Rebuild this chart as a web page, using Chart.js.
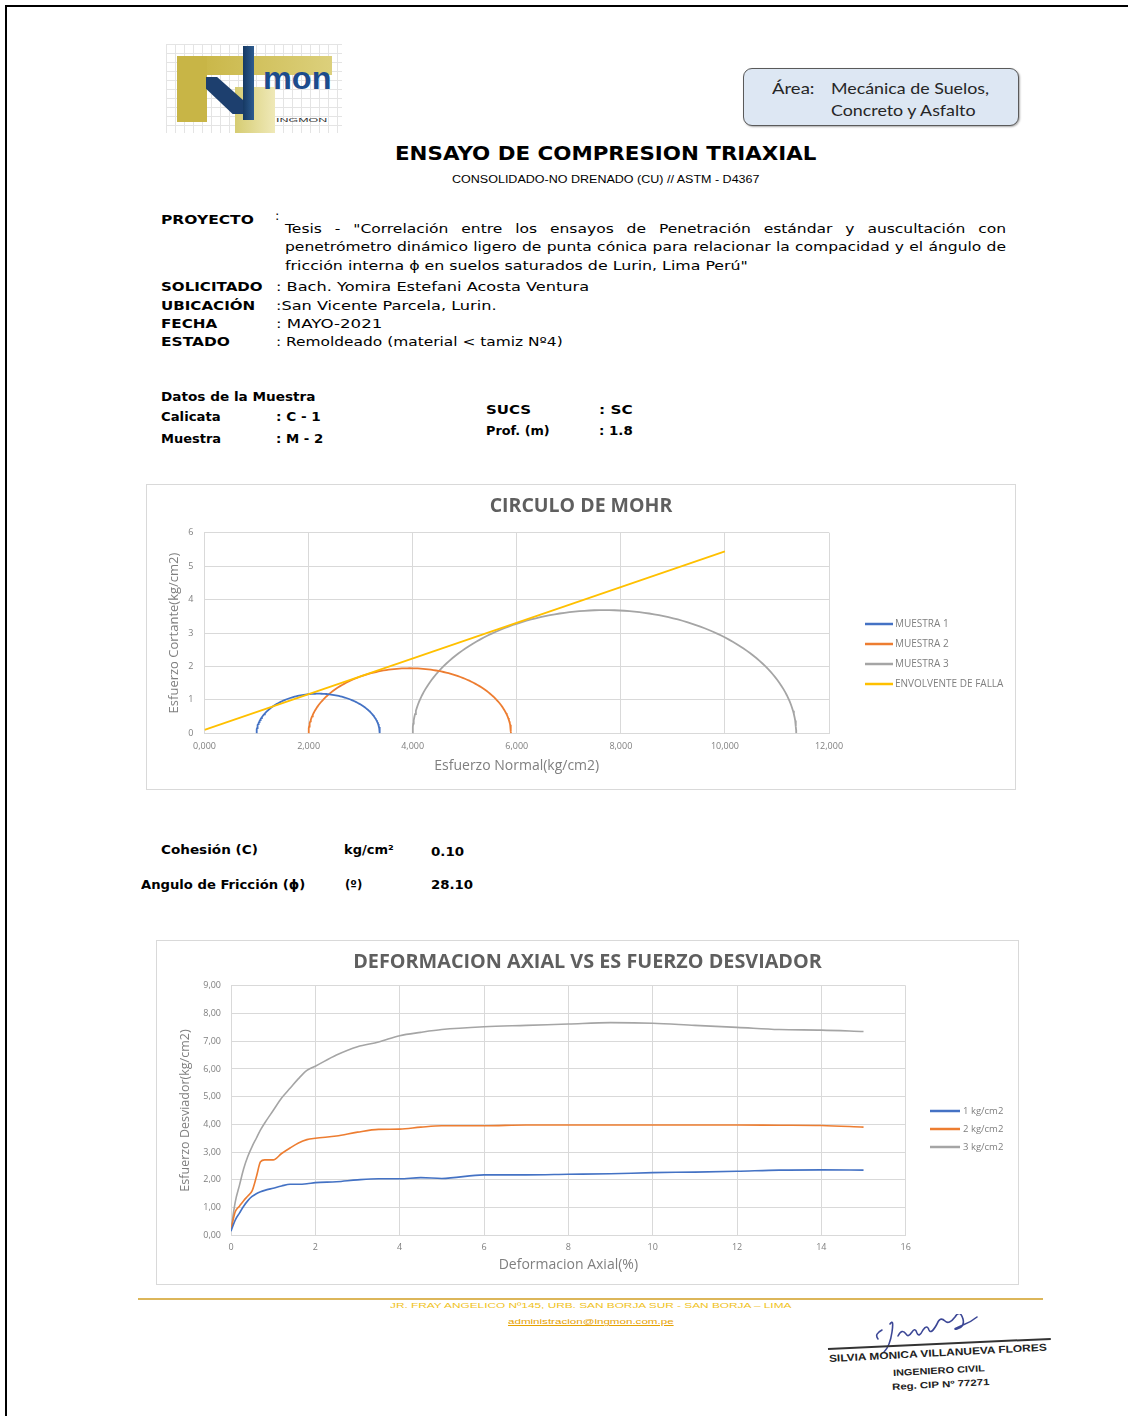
<!DOCTYPE html>
<html lang="es">
<head>
<meta charset="utf-8">
<title>Ensayo de compresión triaxial</title>
<script src="https://cdn.jsdelivr.net/npm/chart.js@4.4.1/dist/chart.umd.min.js"></script>
<style>
html, body { margin: 0; padding: 0; background: #fff; }
body { width: 1128px; height: 1416px; position: relative; overflow: hidden; font-family: "DejaVu Sans", sans-serif; color: #000; }
.t { position: absolute; white-space: nowrap; line-height: 1; transform-origin: 0 50%; }
.b { font-weight: bold; }
.j { position: absolute; width: 721px; left: 285px; font-size: 13px; line-height: 1; text-align: justify; text-align-last: justify; transform-origin: 0 50%; }
.p { position: absolute; }
.caja { position: absolute; background: #fff; border: 1px solid #d9d9d9; }
.caja canvas { display: block; }
</style>
</head>
<body>

<!-- marco de la hoja -->
<div class="p" style="left:5px;top:5px;width:1123px;height:2px;background:#000"></div>
<div class="p" style="left:5px;top:5px;width:2px;height:1411px;background:#000"></div>

<!-- logo -->
<div class="p" style="left:166px;top:44px;width:176px;height:89px;background-color:#fff;background-image:linear-gradient(#e4e4e4 1px, transparent 1px),linear-gradient(90deg,#e4e4e4 1px, transparent 1px);background-size:9px 9px"></div>
<div class="p" style="left:177px;top:56px;width:155px;height:19px;background:linear-gradient(90deg,#c6b23e,#dcd07c)"></div>
<div class="p" style="left:177px;top:56px;width:30px;height:66px;background:#c8b546"></div>
<div class="p" style="left:235px;top:87px;width:40px;height:46px;background:linear-gradient(90deg,#d6cc72,#efe9b8)"></div>
<div class="p" style="left:206px;top:77px;width:37px;height:37px;background:#1d3f6e;clip-path:polygon(0 0,30% 0,100% 62%,100% 100%,72% 100%,0 32%)"></div>
<div class="p" style="left:243px;top:46px;width:11px;height:74px;background:linear-gradient(90deg,#163963,#2d5c90)"></div>
<span class="t b" style="left:263px;top:63px;font-family:'Liberation Sans';font-size:31px;color:#1c4b8c" data-w="68">mon</span>
<span class="t" style="left:276px;top:117px;font-family:'Liberation Sans';font-size:6px;color:#333" data-w="52">INGMON</span>

<!-- recuadro de área -->
<div class="p" style="left:743px;top:68px;width:274px;height:56px;border:1.5px solid #5a5a5a;border-radius:9px;background:#dde7f3;box-shadow:1px 1px 2px #aaa"></div>
<span class="t" style="left:772px;top:80.5px;font-family:Lato;font-size:15px;color:#262626" data-w="42">Área:</span>
<span class="t" style="left:831px;top:80.5px;font-family:Lato;font-size:15px;color:#262626" data-w="158">Mecánica de Suelos,</span>
<span class="t" style="left:831px;top:102.5px;font-family:Lato;font-size:15px;color:#262626" data-w="145">Concreto y Asfalto</span>

<!-- encabezado -->
<span class="t b" style="left:395px;top:143.5px;font-size:19px" data-w="422">ENSAYO DE COMPRESION TRIAXIAL</span>
<span class="t" style="left:452px;top:175px;font-family:'Liberation Sans';font-size:10px" data-w="308">CONSOLIDADO-NO DRENADO (CU) // ASTM - D4367</span>

<!-- datos del proyecto -->
<span class="t b" style="left:161px;top:212.5px;font-size:13px" data-w="93">PROYECTO</span>
<span class="t" style="left:275px;top:208.5px;font-size:13px">:</span>
<div class="j" style="top:221.5px">Tesis - "Correlación entre los ensayos de Penetración estándar y auscultación con</div>
<div class="j" style="top:239.5px">penetrómetro dinámico ligero de punta cónica para relacionar la compacidad y el ángulo de</div>
<span class="t" style="left:285px;top:258.5px;font-size:13px" data-w="463">fricción interna ϕ en suelos saturados de Lurin, Lima Perú"</span>

<span class="t b" style="left:161px;top:279.5px;font-size:13px" data-w="102">SOLICITADO</span>
<span class="t" style="left:276px;top:279.5px;font-size:13px" data-w="313">: Bach. Yomira Estefani Acosta Ventura</span>
<span class="t b" style="left:161px;top:298.5px;font-size:13px" data-w="94">UBICACIÓN</span>
<span class="t" style="left:276px;top:298.5px;font-size:13px" data-w="221">:San Vicente Parcela, Lurin.</span>
<span class="t b" style="left:161px;top:316.5px;font-size:13px" data-w="56">FECHA</span>
<span class="t" style="left:276px;top:316.5px;font-size:13px" data-w="106">: MAYO-2021</span>
<span class="t b" style="left:161px;top:334.5px;font-size:13px" data-w="69">ESTADO</span>
<span class="t" style="left:276px;top:334.5px;font-size:13px" data-w="287">: Remoldeado (material &lt; tamiz Nº4)</span>

<!-- datos de la muestra -->
<span class="t b" style="left:161px;top:389.5px;font-size:13px" data-w="155">Datos de la Muestra</span>
<span class="t b" style="left:161px;top:409.5px;font-size:13px" data-w="60">Calicata</span>
<span class="t b" style="left:276px;top:409.5px;font-size:13px" data-w="45">: C - 1</span>
<span class="t b" style="left:161px;top:431.5px;font-size:13px" data-w="60">Muestra</span>
<span class="t b" style="left:276px;top:431.5px;font-size:13px" data-w="47">: M - 2</span>
<span class="t b" style="left:486px;top:402.5px;font-size:13px" data-w="45">SUCS</span>
<span class="t b" style="left:599px;top:402.5px;font-size:13px" data-w="34">: SC</span>
<span class="t b" style="left:486px;top:423.5px;font-size:13px" data-w="64">Prof. (m)</span>
<span class="t b" style="left:599px;top:423.5px;font-size:13px" data-w="34">: 1.8</span>

<!-- gráfico 1 -->
<div class="caja" style="left:146px;top:484px;width:868px;height:304px"><canvas id="mohr" width="868" height="304"></canvas></div>

<!-- parámetros -->
<span class="t b" style="left:161px;top:842.5px;font-size:13px" data-w="97">Cohesión (C)</span>
<span class="t b" style="left:344px;top:842.5px;font-size:13px" data-w="50">kg/cm²</span>
<span class="t b" style="left:431px;top:844.5px;font-size:13px" data-w="33">0.10</span>
<span class="t b" style="left:141px;top:877.5px;font-size:13px" data-w="164">Angulo de Fricción (ϕ)</span>
<span class="t b" style="left:345px;top:877.5px;font-size:13px" data-w="17">(º)</span>
<span class="t b" style="left:431px;top:877.5px;font-size:13px" data-w="42">28.10</span>

<!-- gráfico 2 -->
<div class="caja" style="left:156px;top:940px;width:861px;height:343px"><canvas id="desviador" width="861" height="343"></canvas></div>

<!-- pie de página -->
<div class="p" style="left:138px;top:1298px;width:905px;height:2px;background:#dcb65a"></div>
<span class="t" style="left:390px;top:1302px;font-family:'Liberation Sans';font-size:8px;color:#f0c21a" data-w="402">JR. FRAY ANGELICO Nº145, URB. SAN BORJA SUR - SAN BORJA – LIMA</span>
<span class="t" style="left:508px;top:1318px;font-family:'Liberation Sans';font-size:8px;color:#e6a100;text-decoration:underline" data-w="165">administracion@ingmon.com.pe</span>

<!-- firma -->
<svg class="p" style="left:868px;top:1314px" width="140" height="42" viewBox="0 0 140 42">
  <path d="M14 16 q-8 4 -4 9 M22 10 q4 -6 2 8 q-2 14 -8 20 M30 22 q4 -8 8 -2 q2 4 6 -2 q3 -5 5 1 q2 5 6 -3 q4 -6 6 0 q2 5 8 -6 q3 -8 8 -3 q4 4 10 -4 q5 -8 8 2 q2 8 -6 10 q-6 1 6 -4 q8 -3 14 -8"
        fill="none" stroke="#3c4796" stroke-width="1.6" stroke-linecap="round"/>
</svg>
<div class="p" style="left:828px;top:1348px;width:223px;height:2px;background:#333;transform:rotate(-2.6deg);transform-origin:0 50%"></div>
<span class="t b" style="left:829px;top:1354px;font-family:'Liberation Sans';font-size:10px;color:#222" data-w="218" data-r="-3">SILVIA MONICA VILLANUEVA FLORES</span>
<span class="t b" style="left:893px;top:1369px;font-family:'Liberation Sans';font-size:9px;color:#222" data-w="92" data-r="-3">INGENIERO CIVIL</span>
<span class="t b" style="left:892px;top:1383px;font-family:'Liberation Sans';font-size:9px;color:#222" data-w="98" data-r="-3">Reg. CIP Nº 77271</span>

<script>
// ----- Círculo de Mohr (kg/cm2) -----
const muestras = ['MUESTRA 1', 'MUESTRA 2', 'MUESTRA 3'];
const sigma3 = [1.00, 2.00, 4.00];     // esfuerzo principal menor
const sigma1 = [3.37, 5.89, 11.37];    // esfuerzo principal mayor
const coloresMuestra = ['#4472C4', '#ED7D31', '#A5A5A5'];
const envolventeX = [0, 10];
const envolventeY = [0.10, 5.44];
const ticksNormal = [0, 2, 4, 6, 8, 10, 12];
const ticksCortante = [0, 1, 2, 3, 4, 5, 6];

// ----- Deformación axial vs esfuerzo desviador -----
const deformacion = [0, 0.1, 0.2, 0.3, 0.4, 0.5, 0.6, 0.7, 0.8, 1.0, 1.2, 1.4, 1.6, 1.8, 2.0, 2.5, 3.0, 3.5, 4.0, 4.5, 5.0, 6.0, 7.0, 8.0, 9.0, 10.0, 11.0, 12.0, 13.0, 14.0, 15.0];
const desviador1 = [0.15, 0.55, 0.80, 1.05, 1.25, 1.40, 1.50, 1.57, 1.62, 1.70, 1.78, 1.84, 1.84, 1.86, 1.90, 1.93, 2.00, 2.04, 2.04, 2.08, 2.05, 2.18, 2.18, 2.20, 2.22, 2.26, 2.28, 2.31, 2.35, 2.36, 2.35];
const desviador2 = [0.20, 0.85, 1.05, 1.25, 1.42, 1.60, 2.10, 2.65, 2.72, 2.72, 2.95, 3.15, 3.33, 3.45, 3.50, 3.58, 3.72, 3.82, 3.83, 3.90, 3.95, 3.95, 3.98, 3.98, 3.98, 3.98, 3.98, 3.98, 3.97, 3.96, 3.90];
const desviador3 = [0.20, 1.20, 1.80, 2.40, 2.85, 3.20, 3.50, 3.80, 4.05, 4.50, 4.95, 5.30, 5.65, 5.95, 6.10, 6.50, 6.80, 6.97, 7.20, 7.32, 7.42, 7.52, 7.57, 7.62, 7.67, 7.65, 7.57, 7.50, 7.42, 7.40, 7.35];
const presiones = ['1 kg/cm2', '2 kg/cm2', '3 kg/cm2'];
const ticksDeformacion = [0, 2, 4, 6, 8, 10, 12, 14, 16];
const ticksDesviador = [0, 1, 2, 3, 4, 5, 6, 7, 8, 9];

// ajusta el ancho de los textos de la hoja
document.querySelectorAll('[data-w]').forEach(el => {
    const k = parseFloat(el.dataset.w) / el.offsetWidth;
    const rot = el.dataset.r ? 'rotate(' + el.dataset.r + 'deg) ' : '';
    el.style.transform = rot + 'scaleX(' + k + ')';
});
// líneas justificadas del proyecto: misma escala, la segunda casi llena
let anchoMax = 0;
document.querySelectorAll('.j').forEach(el => {
    el.style.width = 'auto';
    el.style.display = 'inline-block';
    el.style.whiteSpace = 'nowrap';
    anchoMax = Math.max(anchoMax, el.offsetWidth);
});
const kj = 716 / anchoMax;
document.querySelectorAll('.j').forEach(el => {
    el.style.display = 'block';
    el.style.whiteSpace = 'normal';
    el.style.width = (721 / kj) + 'px';
    el.style.transform = 'scaleX(' + kj + ')';
});

const gris = '#7f7f7f';
const rejilla = '#d9d9d9';
const fuenteEje = { family: 'Open Sans', size: 9 };

// leyenda de líneas a la derecha del área de trazado (como en Excel)
const leyendaLineas = {
    id: 'leyendaLineas',
    afterDraw(chart, args, o) {
        const { ctx, chartArea } = chart;
        ctx.save();
        ctx.font = o.size + 'px "Open Sans"';
        ctx.textBaseline = 'middle';
        ctx.fillStyle = gris;
        chart.data.datasets.forEach((ds, i) => {
            const x = chartArea.right + o.dx;
            const y = o.y0 + o.dy * i;
            ctx.strokeStyle = ds.borderColor;
            ctx.lineWidth = o.grosor;
            ctx.beginPath();
            ctx.moveTo(x, y);
            ctx.lineTo(x + o.largo, y);
            ctx.stroke();
            ctx.fillText(ds.label, x + o.largo + o.sep, y);
        });
        ctx.restore();
    }
};

// semicírculo de Mohr a partir de sigma3 y sigma1
function semicirculo(s3, s1) {
    const c = (s3 + s1) / 2, r = (s1 - s3) / 2;
    const pts = [];
    for (let i = 0; i <= 120; i++) {
        const a = Math.PI * i / 120;
        pts.push({ x: c - r * Math.cos(a), y: r * Math.sin(a) });
    }
    return pts;
}

const fijarTicks = lista => s => { s.ticks = lista.map(v => ({ value: v })); };

const dsMohr = muestras.map((m, i) => ({
    label: m,
    data: semicirculo(sigma3[i], sigma1[i]),
    borderColor: coloresMuestra[i],
    borderWidth: 1.8,
    showLine: true,
    pointRadius: 0,
    order: 1
}));
dsMohr.push({
    label: 'ENVOLVENTE DE FALLA',
    data: envolventeX.map((x, i) => ({ x: x, y: envolventeY[i] })),
    borderColor: '#FFC000',
    borderWidth: 1.8,
    showLine: true,
    pointRadius: 0,
    order: 0
});

new Chart(document.getElementById('mohr'), {
    type: 'scatter',
    data: { datasets: dsMohr },
    plugins: [leyendaLineas],
    options: {
        responsive: false,
        animation: false,
        layout: { padding: 0 },
        plugins: {
            title: {
                display: true, text: 'CIRCULO DE MOHR', color: '#5f5f5f',
                font: { family: 'Open Sans', size: 19.5, weight: 'bold' },
                padding: { top: 9.3, bottom: 15.0 }
            },
            legend: { display: false },
            tooltip: { enabled: false },
            leyendaLineas: { dx: 36, largo: 28, sep: 2, y0: 139, dy: 20, size: 10, grosor: 2.5 }
        },
        scales: {
            x: {
                type: 'linear', min: 0, max: 12,
                afterBuildTicks: fijarTicks(ticksNormal),
                afterFit: s => { s.height = 55.7; },
                grid: { color: rejilla, drawTicks: false },
                border: { color: rejilla },
                ticks: { color: gris, font: fuenteEje, padding: 8, callback: v => v.toFixed(3).replace('.', ',') },
                title: { display: true, text: 'Esfuerzo Normal(kg/cm2)', color: gris, font: { family: 'Open Sans', size: 14 }, padding: { top: 0, bottom: 14.6 } }
            },
            y: {
                type: 'linear', min: 0, max: 6,
                afterBuildTicks: fijarTicks(ticksCortante),
                afterFit: s => { s.width = 57.5; },
                grid: { color: rejilla, drawTicks: false },
                border: { color: rejilla },
                ticks: { color: gris, font: fuenteEje, padding: 11 },
                title: { display: true, text: 'Esfuerzo Cortante(kg/cm2)', color: gris, font: { family: 'Open Sans', size: 13 }, padding: { top: 19.2, bottom: 0 } }
            },
            hueco: {
                type: 'linear', position: 'right', min: 0, max: 1,
                afterFit: s => { s.width = 186; },
                grid: { display: false }, border: { display: false }, ticks: { display: false }
            }
        }
    }
});

const dsDesv = [desviador1, desviador2, desviador3].map((serie, i) => ({
    label: presiones[i],
    data: deformacion.map((x, j) => ({ x: x, y: serie[j] })),
    borderColor: coloresMuestra[i],
    borderWidth: 1.6,
    showLine: true,
    pointRadius: 0,
    cubicInterpolationMode: 'monotone'
}));

new Chart(document.getElementById('desviador'), {
    type: 'scatter',
    data: { datasets: dsDesv },
    plugins: [leyendaLineas],
    options: {
        responsive: false,
        animation: false,
        layout: { padding: 0 },
        plugins: {
            title: {
                display: true, text: 'DEFORMACION AXIAL VS ES FUERZO DESVIADOR', color: '#5f5f5f',
                font: { family: 'Open Sans', size: 19.8, weight: 'bold' },
                padding: { top: 9.1, bottom: 11.9 }
            },
            legend: { display: false },
            tooltip: { enabled: false },
            leyendaLineas: { dx: 24.3, largo: 30, sep: 3, y0: 170, dy: 18, size: 9.5, grosor: 2.5 }
        },
        scales: {
            x: {
                type: 'linear', min: 0, max: 16,
                afterBuildTicks: fijarTicks(ticksDeformacion),
                afterFit: s => { s.height = 48.7; },
                grid: { color: rejilla, drawTicks: false },
                border: { color: rejilla },
                ticks: { color: gris, font: fuenteEje, padding: 6.5 },
                title: { display: true, text: 'Deformacion Axial(%)', color: gris, font: { family: 'Open Sans', size: 14 }, padding: { top: 0, bottom: 10.6 } }
            },
            y: {
                type: 'linear', min: 0, max: 9,
                afterBuildTicks: fijarTicks(ticksDesviador),
                afterFit: s => { s.width = 74; },
                grid: { color: rejilla, drawTicks: false },
                border: { color: rejilla },
                ticks: { color: gris, font: fuenteEje, padding: 10, callback: v => v.toFixed(2).replace('.', ',') },
                title: { display: true, text: 'Esfuerzo Desviador(kg/cm2)', color: gris, font: { family: 'Open Sans', size: 12.5 }, padding: { top: 20.5, bottom: 0 } }
            },
            hueco: {
                type: 'linear', position: 'right', min: 0, max: 1,
                afterFit: s => { s.width = 112.3; },
                grid: { display: false }, border: { display: false }, ticks: { display: false }
            }
        }
    }
});
</script>
</body>
</html>
